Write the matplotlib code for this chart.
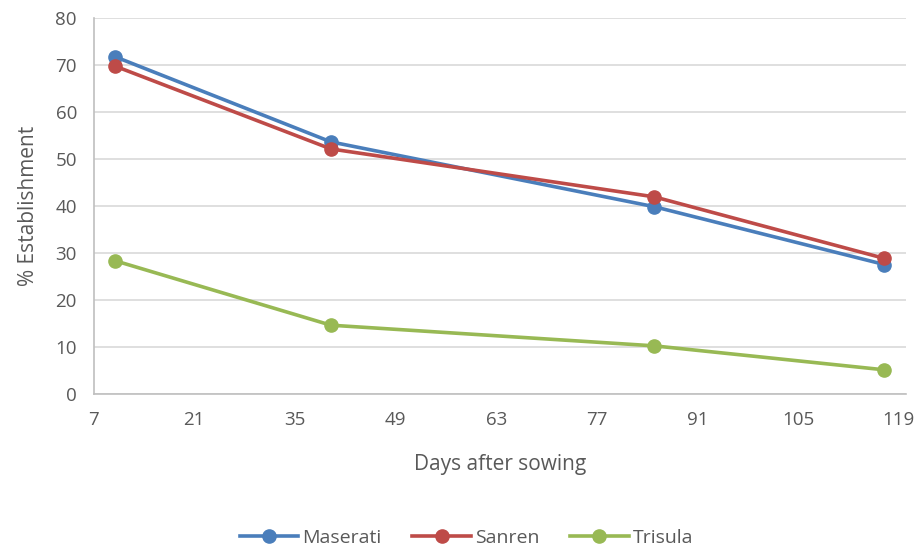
import matplotlib
matplotlib.use('Agg')
import matplotlib.pyplot as plt

# Data
days = [10, 40, 85, 117]
maserati = [71.8, 53.7, 39.9, 27.6]
sanren = [69.8, 52.2, 42.0, 28.9]
trisula = [28.4, 14.7, 10.3, 5.2]

x_ticks = [7, 21, 35, 49, 63, 77, 91, 105, 119]
y_ticks = [0, 10, 20, 30, 40, 50, 60, 70, 80]

series = [
    ('Maserati', maserati, '#4A7EBB'),
    ('Sanren', sanren, '#BE4B48'),
    ('Trisula', trisula, '#98B954'),
]

plt.rcParams['font.family'] = ['Open Sans', 'DejaVu Sans']
text_col = '#595959'
grid_col = '#D9D9D9'

fig = plt.figure(figsize=(9.18, 5.53), dpi=100)
ax = fig.add_axes([0.102, 0.287, 0.885, 0.68])

for name, vals, col in series:
    ax.plot(days, vals, '-o', color=col, linewidth=2.6, markersize=9.5,
            label=name, zorder=3)

ax.set_xlim(7, 120)
ax.set_ylim(0, 80)
ax.set_xticks(x_ticks)
ax.set_yticks(y_ticks)
ax.tick_params(axis='both', length=0, labelsize=13.5, colors=text_col)
ax.tick_params(axis='x', pad=12)
ax.tick_params(axis='y', pad=12)

ax.grid(axis='y', color=grid_col, linewidth=1.2, zorder=0)
for side in ['top', 'right']:
    ax.spines[side].set_visible(False)
for side in ['left', 'bottom']:
    ax.spines[side].set_color('#BFBFBF')
    ax.spines[side].set_linewidth(1.2)

ax.set_xlabel('Days after sowing', fontsize=15, color=text_col, labelpad=18)
ax.set_ylabel('% Establishment', fontsize=15, color=text_col, labelpad=12)

fig.legend(loc='lower center', bbox_to_anchor=(0.508, -0.02), ncol=3,
           frameon=False, fontsize=14, handlelength=3.0, columnspacing=1.6,
           handletextpad=0.2, labelcolor=text_col)

plt.savefig('out.png', dpi=100)
plt.close()
